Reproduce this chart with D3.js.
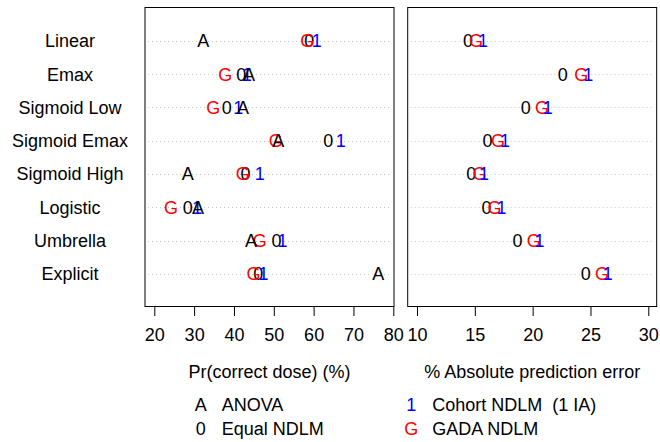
<!DOCTYPE html>
<html>
<head>
<meta charset="utf-8">
<script src="https://cdn.jsdelivr.net/npm/d3@7/dist/d3.min.js"></script>
<style>
  html, body { margin: 0; padding: 0; background: #fff; }
  svg { display: block; font-family: "Liberation Sans", Arial, Helvetica, sans-serif; }
</style>
</head>
<body>
<svg id="chart" width="660" height="442"></svg>
<script>
// Dose-response scenarios (one row each)
const categories = ["Linear", "Emax", "Sigmoid Low", "Sigmoid Emax",
                    "Sigmoid High", "Logistic", "Umbrella", "Explicit"];

// Pr(correct dose), %
const pcdAnova  = [32.3, 43.8, 42.3, 51.1, 28.4, 31.0, 44.3, 76.2];
const pcdEqual  = [58.9, 41.8, 38.2, 63.7, 42.9, 28.4, 50.7, 46.1];
const pcdCohort = [60.8, 43.3, 41.1, 66.8, 46.5, 30.8, 52.2, 47.4];
const pcdGada   = [58.4, 37.8, 34.8, 50.5, 42.2, 24.2, 46.5, 44.9];

// % absolute prediction error (no ANOVA values)
const apeEqual  = [14.4, 22.6, 19.4, 16.1, 14.7, 16.0, 18.7, 24.6];
const apeCohort = [15.7, 24.8, 21.3, 17.6, 15.8, 17.3, 20.6, 26.5];
const apeGada   = [15.1, 24.2, 20.8, 17.0, 15.4, 16.7, 20.1, 26.0];

const leftTicks  = [20, 30, 40, 50, 60, 70, 80];
const rightTicks = [10, 15, 20, 25, 30];

// Designs: plotting symbol, colour, legend text
const designs = [
  { key: "equal",  sym: "0", color: "#000000", label: "Equal NDLM" },
  { key: "gada",   sym: "G", color: "#ff0000", label: "GADA NDLM" },
  { key: "cohort", sym: "1", color: "#0000ff", label: "Cohort NDLM  (1 IA)" },
  { key: "anova",  sym: "A", color: "#000000", label: "ANOVA" }
];

const svg = d3.select("#chart");
const frameTop = 7, frameBottom = 306;
const fontSize = 18;

const y = d3.scalePoint().domain(categories).range([40.7, 274]);

const panels = [
  {
    x0: 145, x1: 394,
    scale: d3.scaleLinear().domain([20, 80]).range([154.3, 393.3]),
    ticks: leftTicks,
    title: "Pr(correct dose) (%)",
    series: { anova: pcdAnova, equal: pcdEqual, cohort: pcdCohort, gada: pcdGada }
  },
  {
    x0: 407.7, x1: 656.7,
    scale: d3.scaleLinear().domain([10, 30]).range([417, 648.3]),
    ticks: rightTicks,
    title: "% Absolute prediction error",
    series: { equal: apeEqual, cohort: apeCohort, gada: apeGada }
  }
];

// Row labels
svg.append("g").selectAll("text")
  .data(categories)
  .join("text")
  .attr("x", 70)
  .attr("y", d => y(d))
  .attr("dy", "0.36em")
  .attr("text-anchor", "middle")
  .attr("font-size", fontSize)
  .attr("fill", "#000")
  .text(d => d);

panels.forEach(p => {
  const g = svg.append("g");

  // dotted guide lines
  g.append("g").selectAll("line")
    .data(categories)
    .join("line")
    .attr("x1", p.x0 + 3)
    .attr("x2", p.x1 - 2)
    .attr("y1", d => Math.round(y(d)) + 0.5)
    .attr("y2", d => Math.round(y(d)) + 0.5)
    .attr("stroke", "#c8c8c8")
    .attr("stroke-width", 1)
    .attr("stroke-dasharray", "1,3");

  // symbols
  designs.forEach(ds => {
    const vals = p.series[ds.key];
    if (!vals) return;
    g.append("g").selectAll("text")
      .data(categories.map((c, i) => ({ c, v: vals[i] })))
      .join("text")
      .attr("x", d => p.scale(d.v))
      .attr("y", d => y(d.c))
      .attr("dy", "0.36em")
      .attr("text-anchor", "middle")
      .attr("font-size", fontSize)
      .attr("fill", ds.color)
      .text(ds.sym);
  });

  // frame
  g.append("rect")
    .attr("x", p.x0)
    .attr("y", frameTop + 0.5)
    .attr("width", p.x1 - p.x0)
    .attr("height", frameBottom - frameTop)
    .attr("fill", "none")
    .attr("stroke", "#000")
    .attr("stroke-width", 1);

  // x axis
  const ax = g.append("g")
    .attr("transform", `translate(0,${frameBottom})`)
    .call(d3.axisBottom(p.scale).tickValues(p.ticks).tickSize(10).tickPadding(12).tickFormat(d3.format("d")));
  ax.select(".domain").remove();
  ax.selectAll(".tick line").attr("stroke", "#000");
  ax.selectAll(".tick text")
    .attr("font-size", fontSize)
    .attr("font-family", "Liberation Sans, Arial, sans-serif")
    .attr("fill", "#000");

  // axis title
  g.append("text")
    .attr("x", (p.x0 + p.x1) / 2)
    .attr("y", 372)
    .attr("dy", "0.36em")
    .attr("text-anchor", "middle")
    .attr("font-size", fontSize)
    .attr("fill", "#000")
    .text(p.title);
});

// Legend
const legendItems = [
  { d: designs[3], x: 200.7, y: 405 },
  { d: designs[0], x: 200.7, y: 429 },
  { d: designs[2], x: 411.3, y: 405 },
  { d: designs[1], x: 411.3, y: 429 }
];
const lg = svg.append("g");
legendItems.forEach(it => {
  lg.append("text")
    .attr("x", it.x).attr("y", it.y).attr("dy", "0.36em")
    .attr("text-anchor", "middle")
    .attr("font-size", fontSize)
    .attr("fill", it.d.color)
    .text(it.d.sym);
  lg.append("text")
    .attr("x", it.x + 21).attr("y", it.y).attr("dy", "0.36em")
    .attr("font-size", fontSize)
    .attr("fill", "#000")
    .style("white-space", "pre")
    .text(it.d.label);
});
</script>
</body>
</html>
